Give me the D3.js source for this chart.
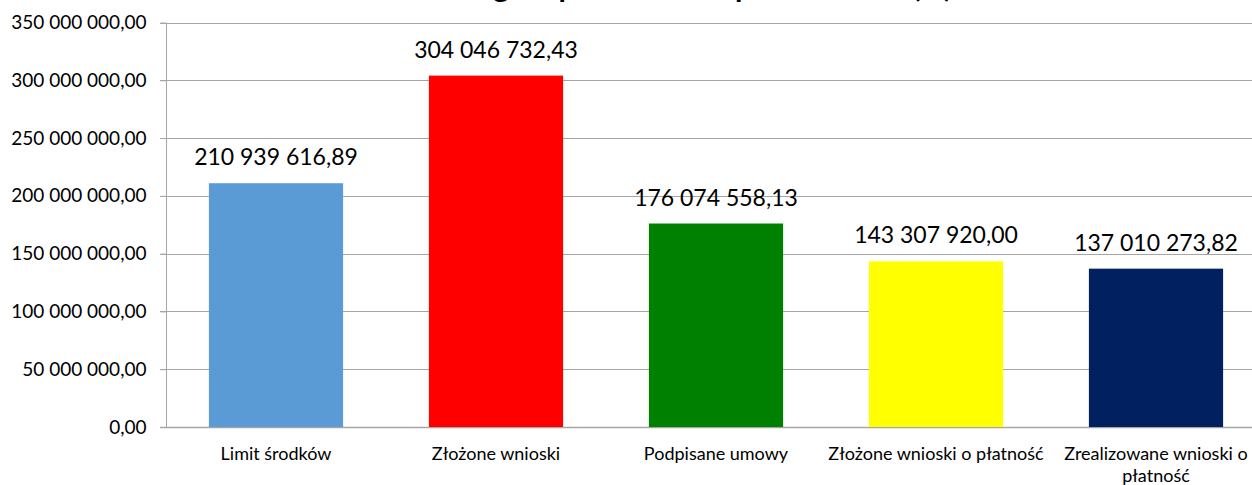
<!DOCTYPE html>
<html>
<head>
<meta charset="utf-8">
<script src="https://cdn.jsdelivr.net/npm/d3@7"></script>
<style>
  body { margin: 0; background: #fff; }
  text { font-family: Lato, "Open Sans", sans-serif; fill: #000; }
</style>
</head>
<body>
<div id="chart"></div>
<script>
// data
const categories = ["Limit środków", "Złożone wnioski", "Podpisane umowy", "Złożone wnioski o płatność", "Zrealizowane wnioski o płatność"];
const values = [210939616.89, 304046732.43, 176074558.13, 143307920.00, 137010273.82];
const barColors = ["#5b9bd5", "#ff0000", "#008000", "#ffff00", "#002060"];
const yTicks = [0, 50000000, 100000000, 150000000, 200000000, 250000000, 300000000, 350000000];
const title = "Środki wg etapu w ramach poddziałania (zł)";

const data = categories.map((c, i) => ({ cat: c, value: values[i], color: barColors[i] }));

const svgWidth = 1252;
const svgHeight = 485;

const svg = d3.select("#chart")
    .append("svg")
    .attr("width", svgWidth)
    .attr("height", svgHeight);

// polish number format: space thousands, comma decimals
const pl = d3.formatLocale({ decimal: ",", thousands: "\u00a0", grouping: [3], currency: ["", " zł"] });
const fmt = pl.format(",.2f");

const x = d3.scaleBand()
    .domain(categories)
    .range([166, 1266])
    .paddingInner(0.39)
    .paddingOuter(0.195);

const y = d3.scaleLinear()
    .domain([0, 350000000])
    .range([427, 22.5]);

// title (mostly cut off above the picture, as in the original)
svg.append("text")
    .attr("x", 665)
    .attr("y", -3)
    .attr("text-anchor", "middle")
    .attr("font-size", 30)
    .attr("font-weight", "bold")
    .text(title);

// gridlines
svg.selectAll(".grid")
    .data(yTicks)
    .join("line")
    .attr("class", "grid")
    .attr("x1", 160)
    .attr("x2", svgWidth)
    .attr("y1", d => Math.round(y(d)) + 0.5)
    .attr("y2", d => Math.round(y(d)) + 0.5)
    .attr("stroke", "#a6a6a6")
    .attr("stroke-width", d => d === 0 ? 1.5 : 1);

// y axis
const yAxis = svg.append("g")
    .attr("class", "axis axis-y")
    .attr("transform", "translate(166.5,0)")
    .call(d3.axisLeft(y).tickValues(yTicks).tickFormat(fmt).tickSize(6).tickPadding(14));
yAxis.select(".domain").attr("stroke", "#a6a6a6").attr("d", `M-6,${Math.round(y(350000000)) + 0.5}H0V${Math.round(y(0)) + 0.5}`);
yAxis.selectAll(".tick line").attr("stroke", "#a6a6a6");
yAxis.selectAll(".tick text")
    .attr("font-size", 19)
    .attr("font-family", "Lato, sans-serif")
    .attr("fill", "#000");

// bars
svg.selectAll(".bar")
    .data(data)
    .join("rect")
    .attr("class", "bar")
    .attr("x", d => x(d.cat))
    .attr("y", d => y(d.value))
    .attr("width", x.bandwidth())
    .attr("height", d => y(0) - y(d.value))
    .attr("fill", d => d.color);

// value labels
svg.selectAll(".val")
    .data(data)
    .join("text")
    .attr("class", "val")
    .attr("x", d => x(d.cat) + x.bandwidth() / 2)
    .attr("y", d => y(d.value) - 18)
    .attr("text-anchor", "middle")
    .attr("font-size", 23)
    .text(d => fmt(d.value));

// category labels, wrapped to band step
const catText = svg.selectAll(".cat")
    .data(data)
    .join("text")
    .attr("class", "cat")
    .attr("x", d => x(d.cat) + x.bandwidth() / 2)
    .attr("y", 460)
    .attr("text-anchor", "middle")
    .attr("font-size", 18);

catText.each(function(d) {
    const t = d3.select(this);
    const words = d.cat.split(" ");
    let line = [];
    let tspan = t.append("tspan").attr("x", x(d.cat) + x.bandwidth() / 2).attr("dy", 0);
    words.forEach(w => {
        line.push(w);
        tspan.text(line.join(" "));
        if (tspan.node().getComputedTextLength() > x.step() && line.length > 1) {
            line.pop();
            tspan.text(line.join(" "));
            line = [w];
            tspan = t.append("tspan").attr("x", x(d.cat) + x.bandwidth() / 2).attr("dy", 22).text(w);
        }
    });
});
</script>
</body>
</html>
